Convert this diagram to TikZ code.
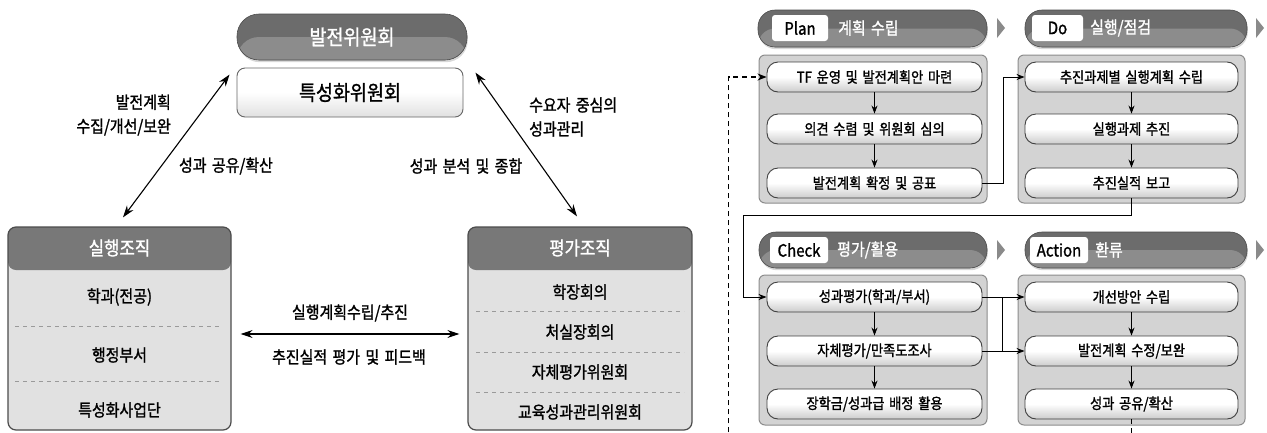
\documentclass[tikz,border=0pt]{standalone}
\usepackage{fontspec}
\setmainfont{Noto Sans CJK KR}[FakeStretch=0.88,WordSpace=1.6,FakeBold=1.3]
\usetikzlibrary{arrows.meta,shadows}
\definecolor{hdark}{HTML}{6C6C6C}
\definecolor{hlight}{HTML}{8C8C8C}
\definecolor{orghead}{HTML}{787878}
\definecolor{orgbody}{HTML}{E1E1E1}
\definecolor{panelbody}{HTML}{D3D3D3}
\definecolor{panelline}{HTML}{8C8C8C}
\definecolor{tri}{HTML}{8A8A8A}
\definecolor{dashcol}{HTML}{9A9A9A}
\tikzset{
  pill/.style={draw=hdark!70!black, line width=0.6pt, fill=hdark, rounded corners=#1,
    path picture={\fill[hlight] (path picture bounding box.west) rectangle (path picture bounding box.south east);},
    drop shadow={shadow xshift=0.8pt, shadow yshift=-2.2pt, fill=black!30}},
  bigtxt/.style={font=\fontsize{21}{25}\selectfont},
  lbl/.style={font=\fontsize{17}{24}\selectfont, inner sep=0pt},
  itemtxt/.style={font=\fontsize{17}{20}\selectfont, inner sep=0pt},
  specbox/.style={draw=black!60, line width=0.9pt, rounded corners=8pt, top color=white, bottom color=black!12, middle color=white, font=\fontsize{21}{25}\selectfont},
  orgbox/.style={draw=black!70, line width=1.2pt, rounded corners=8pt, fill=orgbody, minimum height=203pt,
    path picture={\fill[orghead] (path picture bounding box.north west) rectangle ([yshift=-43pt]path picture bounding box.north east);}},
  orghd/.style={text=white, font=\fontsize{19}{22}\selectfont, inner sep=0pt},
  sep/.style={dashcol, line width=0.8pt, dash pattern=on 4pt off 4pt},
  dbl/.style={{Stealth[length=12pt,width=8pt]}-{Stealth[length=12pt,width=8pt]}, line width=1.1pt},
  panel/.style={fill=panelbody, draw=panelline, line width=1pt, rounded corners=6pt},
  tag/.style={fill=white, rounded corners=3pt, minimum height=26pt, inner sep=0pt, font=\fontsize{17}{20}\selectfont},
  htitle/.style={text=white, anchor=west, inner sep=0pt, font=\fontsize{17}{20}\selectfont},
  stepbox/.style={draw=black!75, line width=0.9pt, rounded corners=11pt, top color=white, bottom color=black!20, middle color=white,
    minimum height=30pt, inner sep=0pt, font=\fontsize{15}{18}\selectfont},
  flow/.style={-{Stealth[length=8pt,width=6pt]}, line width=0.9pt},
  loop/.style={-{Stealth[length=9pt,width=7pt]}, line width=1.1pt, dash pattern=on 5pt off 4pt},
}
\begin{document}
\begin{tikzpicture}[x=1pt,y=-1pt]
\useasboundingbox (0,0) rectangle (1267,432);
\clip (0,0) rectangle (1267,432);
\fill[white] (0,0) rectangle (1267,432);

% ---------------- left part ----------------
\node[pill=22pt, minimum width=230pt, minimum height=46pt, text=white, bigtxt] (dev) at (352,37) {발전위원회};
\node[specbox, minimum width=226pt, minimum height=49pt] (spec) at (350,92.5) {특성화위원회};

\node[orgbox, minimum width=223pt] (exec) at (119.5,328.5) {};
\node[orghd] (exech) at (119.5,248) {실행조직};
\node[itemtxt] (e1) at (119.5,297) {학과(전공)};
\node[itemtxt] (e2) at (119.5,355) {행정부서};
\node[itemtxt] (e3) at (119.5,410) {특성화사업단};
\draw[sep] (15,326) -- (222,326);
\draw[sep] (15,381) -- (222,381);

\node[orgbox, minimum width=224pt] (eval) at (580,328.5) {};
\node[orghd] (evalh) at (580,248) {평가조직};
\node[itemtxt] (v1) at (580,292) {학장회의};
\node[itemtxt] (v2) at (580,332) {처실장회의};
\node[itemtxt] (v3) at (580,372) {자체평가위원회};
\node[itemtxt] (v4) at (580,412) {교육성과관리위원회};
\draw[sep] (476,311) -- (684,311);
\draw[sep] (476,352) -- (684,352);
\draw[sep] (476,392) -- (684,392);

\draw[dbl] ([shift={(3.5,-9)}]exec.north) -- ([shift={(-7,7)}]spec.north west);
\draw[dbl] ([shift={(12,5)}]spec.north east) -- ([shift={(-3,-10)}]eval.north);
\draw[dbl] ([shift={(9,5.5)}]exec.east) -- ([shift={(-8,5.5)}]eval.west);

\node[lbl, align=right, anchor=east] (l1) at (171,115) {발전계획\\수집/개선/보완};
\node[lbl] (l2) at (226,166) {성과 공유/확산};
\node[lbl, align=left, anchor=west] (l3) at (529,117) {수요자 중심의\\성과관리};
\node[lbl] (l4) at (466,166) {성과 분석 및 종합};
\node[lbl] (l5) at (350,313) {실행계획수립/추진};
\node[lbl] (l6) at (349,357) {추진실적 평가 및 피드백};

% ---------------- right part ----------------
% Plan
\node[pill=17pt, minimum width=229pt, minimum height=37pt] (ph) at (872.5,28.5) {};
\node[tag, minimum width=56pt] (pt) at (800,28) {Plan};
\node[htitle] (ptt) at (838,28) {계획 수립};
\node[panel, minimum width=228pt, minimum height=148pt] (pb) at (873,129) {};
\node[stepbox, minimum width=215pt] (p1) at (874.5,77) {TF 운영 및 발전계획안 마련};
\node[stepbox, minimum width=215pt] (p2) at (874.5,129) {의견 수렴 및 위원회 심의};
\node[stepbox, minimum width=215pt] (p3) at (874.5,183) {발전계획 확정 및 공표};
\draw[flow] (p1) -- (p2);
\draw[flow] (p2) -- (p3);
\fill[tri] (997,18) -- (1005,28) -- (997,38) -- cycle;

% Do
\node[pill=17pt, minimum width=222pt, minimum height=37pt] (dh) at (1136,28.5) {};
\node[tag, minimum width=51pt] (dt) at (1057.5,28) {Do};
\node[htitle] (dtt) at (1090,28) {실행/점검};
\node[panel, minimum width=227pt, minimum height=148pt] (db) at (1131.5,129) {};
\node[stepbox, minimum width=213pt] (d1) at (1131.5,77) {추진과제별 실행계획 수립};
\node[stepbox, minimum width=213pt] (d2) at (1131.5,129) {실행과제 추진};
\node[stepbox, minimum width=213pt] (d3) at (1131.5,183) {추진실적 보고};
\draw[flow] (d1) -- (d2);
\draw[flow] (d2) -- (d3);
\fill[tri] (1256,18) -- (1264,28) -- (1256,38) -- cycle;

% Check
\node[pill=17pt, minimum width=228pt, minimum height=36pt] (chh) at (873,250) {};
\node[tag, minimum width=58pt] (ct) at (799,250) {Check};
\node[htitle] (ctt) at (837,250) {평가/활용};
\node[panel, minimum width=228pt, minimum height=150pt] (cb) at (873,350) {};
\node[stepbox, minimum width=215pt] (c1) at (874.5,297) {성과평가(학과/부서)};
\node[stepbox, minimum width=215pt] (c2) at (874.5,351) {자체평가/만족도조사};
\node[stepbox, minimum width=215pt] (c3) at (874.5,404) {장학금/성과급 배정 활용};
\draw[flow] (c1) -- (c2);
\draw[flow] (c2) -- (c3);
\fill[tri] (997,240) -- (1005,250) -- (997,260) -- cycle;

% Action
\node[pill=17pt, minimum width=222pt, minimum height=36pt] (ah) at (1136,250) {};
\node[tag, minimum width=58pt] (at) at (1059,250) {Action};
\node[htitle] (att) at (1095,250) {환류};
\node[panel, minimum width=227pt, minimum height=150pt] (ab) at (1131.5,350) {};
\node[stepbox, minimum width=213pt] (a1) at (1131.5,297) {개선방안 수립};
\node[stepbox, minimum width=213pt] (a2) at (1131.5,351) {발전계획 수정/보완};
\node[stepbox, minimum width=213pt] (a3) at (1131.5,404) {성과 공유/확산};
\draw[flow] (a1) -- (a2);
\draw[flow] (a2) -- (a3);
\fill[tri] (1256,240) -- (1264,250) -- (1256,260) -- cycle;

% connectors
\draw[flow] (p3.east) -- ++(21,0) |- (d1.west);
\draw[flow] (d3.south) -- ++(0,17) -| ([xshift=-23pt]c1.west) -- (c1.west);
\draw[flow] (c1.east) -- (a1.west);
\draw[flow] (c2.east) -- (a2.west);
\draw[line width=0.9pt] ([xshift=20pt]c1.east) -- ([xshift=20pt]c2.east);
\draw[loop] (a3.south) -- ++(0,30) -| ([xshift=-38pt]p1.west) -- (p1.west);
\end{tikzpicture}
\end{document}
